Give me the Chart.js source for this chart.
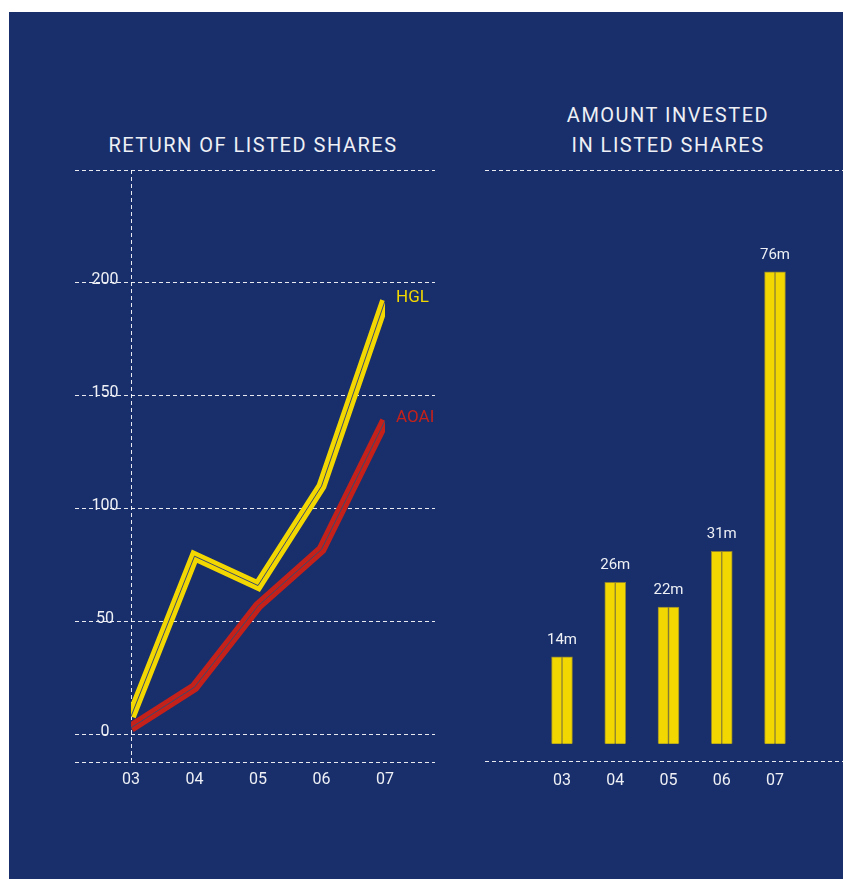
<!DOCTYPE html>
<html>
<head>
<meta charset="utf-8">
<script src="https://cdn.jsdelivr.net/npm/chart.js@4.4.1/dist/chart.umd.min.js"></script>
<style>
html, body { margin: 0; padding: 0; background: #fff; }
#page { position: relative; width: 843px; height: 879px; background: #fff; overflow: hidden; }
#panel { position: absolute; left: 9px; top: 12px; width: 834px; height: 867px; background: #182f6b; }
canvas { position: absolute; top: 0; }
#returnChart { left: 0; }
#amountChart { left: 470px; }
.title { position: absolute; color: #eef0f5; font-family: Roboto, sans-serif; font-size: 20px;
         letter-spacing: 1.5px; text-align: center; line-height: 30px; }
</style>
</head>
<body>
<div id="page">
  <div id="panel"></div>
  <div class="title" style="left:53px; top:130px; width:400px;">RETURN OF LISTED SHARES</div>
  <div class="title" style="left:518px; top:100px; width:300px;">AMOUNT INVESTED<br>IN LISTED SHARES</div>
  <canvas id="returnChart" width="470" height="879"></canvas>
  <canvas id="amountChart" width="373" height="879"></canvas>
</div>
<script>
var YEARS = ['03', '04', '05', '06', '07'];
var YEAR_X = [3, 4, 5, 6, 7];
var HGL_RETURN = [8, 79, 66, 110, 192];
var AOAI_RETURN = [3, 21, 57, 82, 139];
var RETURN_TICKS = [0, 50, 100, 150, 200];
var AMOUNT_INVESTED = [14, 26, 22, 31, 76];

var YELLOW = '#f2d700';
var RED = '#c4211b';
var CENTER_LINE = '#3c4a6c';
var TEXT = '#eef0f5';
var GRID = 'rgba(255,255,255,0.9)';
var DASH = [4, 3];
var FONT = 'Roboto, sans-serif';

function points(values) {
    var pts = [];
    for (var i = 0; i < values.length; i++) {
        pts.push({ x: YEAR_X[i], y: values[i] });
    }
    return pts;
}

function yearLabel(value) {
    var idx = YEAR_X.indexOf(value);
    return idx == -1 ? '' : YEARS[idx];
}

// lines are cut off at the first and last year, names drawn after
var clipToYears = {
    id: 'clipToYears',
    beforeDatasetsDraw: function(chart) {
        var ctx = chart.ctx;
        var x = chart.scales.x;
        var left = x.getPixelForValue(YEAR_X[0]);
        var right = x.getPixelForValue(YEAR_X[YEAR_X.length - 1]);
        ctx.save();
        ctx.beginPath();
        ctx.rect(left, 0, right - left, chart.height);
        ctx.clip();
    },
    afterDatasetsDraw: function(chart) {
        var ctx = chart.ctx;
        ctx.restore();
        ctx.save();
        ctx.font = '17px ' + FONT;
        ctx.textAlign = 'left';
        ctx.textBaseline = 'middle';
        chart.data.datasets.forEach(function(dataset, i) {
            if (!dataset.seriesName) return;
            var meta = chart.getDatasetMeta(i);
            var last = meta.data[meta.data.length - 1];
            ctx.fillStyle = dataset.borderColor;
            ctx.fillText(dataset.seriesName, last.x + 11, last.y - 3);
        });
        ctx.restore();
    }
};

var barLabels = {
    id: 'barLabels',
    afterDatasetsDraw: function(chart) {
        var ctx = chart.ctx;
        var left = chart.getDatasetMeta(0).data;
        var right = chart.getDatasetMeta(1).data;
        ctx.save();
        ctx.font = '15px ' + FONT;
        ctx.fillStyle = TEXT;
        ctx.textAlign = 'center';
        ctx.textBaseline = 'middle';
        for (var i = 0; i < left.length; i++) {
            var cx = (left[i].x + right[i].x) / 2;
            ctx.fillText(AMOUNT_INVESTED[i] + 'm', cx, left[i].y - 17);
        }
        ctx.restore();
    }
};

function lineSet(values, color, width, order, name) {
    return {
        data: points(values),
        borderColor: color,
        borderWidth: width,
        borderJoinStyle: 'miter',
        tension: 0,
        pointRadius: 0,
        fill: false,
        order: order,
        seriesName: name
    };
}

new Chart(document.getElementById('returnChart').getContext('2d'), {
    type: 'line',
    data: {
        datasets: [
            lineSet(AOAI_RETURN, CENTER_LINE, 1, 0),
            lineSet(AOAI_RETURN, RED, 10, 1, 'AOAI'),
            lineSet(HGL_RETURN, CENTER_LINE, 1, 2),
            lineSet(HGL_RETURN, YELLOW, 10, 3, 'HGL')
        ]
    },
    options: {
        responsive: false,
        animation: false,
        layout: { padding: { left: 42, right: 35, top: 170, bottom: 81 } },
        plugins: { legend: { display: false }, tooltip: { enabled: false } },
        scales: {
            x: {
                type: 'linear',
                min: 2.118,
                max: 7.787,
                afterBuildTicks: function(scale) {
                    scale.ticks = YEAR_X.map(function(v) { return { value: v }; });
                },
                border: { display: false, dash: DASH },
                grid: {
                    drawTicks: false,
                    color: function(ctx) { return ctx.tick && ctx.tick.value == YEAR_X[0] ? GRID : 'rgba(0,0,0,0)'; }
                },
                ticks: {
                    color: TEXT,
                    padding: 8,
                    font: { family: FONT, size: 16 },
                    callback: function(value) { return yearLabel(value); }
                }
            },
            y: {
                min: -12.5,
                max: 250,
                afterBuildTicks: function(scale) {
                    var t = [-12.5].concat(RETURN_TICKS).concat([250]);
                    scale.ticks = t.map(function(v) { return { value: v }; });
                },
                border: { display: false, dash: DASH },
                grid: { drawTicks: false, color: GRID },
                ticks: {
                    mirror: true,
                    crossAlign: 'center',
                    padding: 16.5,
                    labelOffset: -3,
                    color: TEXT,
                    font: { family: FONT, size: 16 },
                    callback: function(value) { return RETURN_TICKS.indexOf(value) == -1 ? '' : String(value); }
                }
            }
        }
    },
    plugins: [clipToYears]
});

function barSet() {
    return {
        data: points(AMOUNT_INVESTED),
        backgroundColor: YELLOW,
        borderColor: '#8f8330',
        borderWidth: 1,
        barThickness: 10.5
    };
}

new Chart(document.getElementById('amountChart').getContext('2d'), {
    type: 'bar',
    data: { datasets: [barSet(), barSet()] },
    options: {
        responsive: false,
        animation: false,
        layout: { padding: { left: 15, right: 0, top: 170, bottom: 86 } },
        plugins: { legend: { display: false }, tooltip: { enabled: false } },
        scales: {
            x: {
                type: 'linear',
                offset: false,
                min: 1.554,
                max: 8.277,
                afterBuildTicks: function(scale) {
                    scale.ticks = YEAR_X.map(function(v) { return { value: v }; });
                },
                border: { display: false },
                grid: { display: false, offset: false },
                ticks: {
                    color: TEXT,
                    padding: 2,
                    font: { family: FONT, size: 16 },
                    callback: function(value) { return yearLabel(value); }
                }
            },
            y: {
                min: -2.9,
                max: 92.4,
                afterBuildTicks: function(scale) {
                    scale.ticks = [{ value: -2.9 }, { value: 92.4 }];
                },
                border: { display: false, dash: DASH },
                grid: { drawTicks: false, color: GRID },
                ticks: { display: false }
            }
        }
    },
    plugins: [barLabels]
});
</script>
</body>
</html>
